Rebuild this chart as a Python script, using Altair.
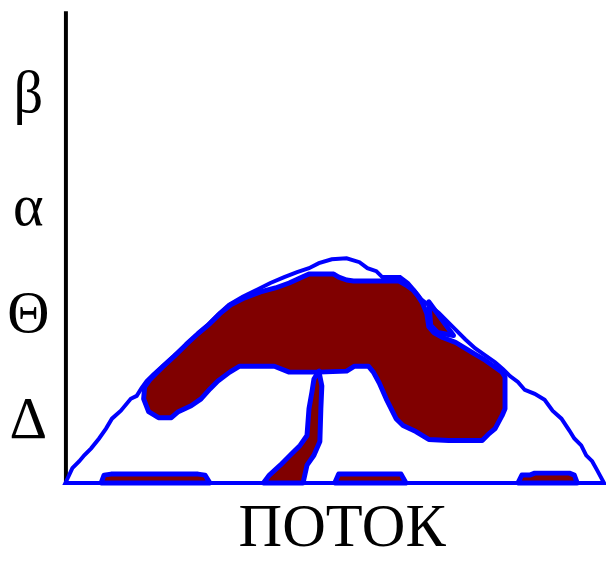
import altair as alt
import pandas as pd

# Phase-diagram outlines (x: flux units, y: level units)
envelope_x = [0, 7, 14, 19, 26, 34, 41, 47, 56, 66, 72, 77, 82, 89, 99, 109, 120, 132, 144, 154,
              165, 179, 195, 207, 221, 234, 246, 256, 269, 284, 297, 305, 314, 320, 338, 346, 353,
              360, 377, 391, 404, 414, 424, 434, 442, 449, 457, 464, 474, 484, 492, 501, 509, 514,
              521, 526, 532, 537, 544]
envelope_y = [-2, 13, 20, 26, 33, 43, 53, 63, 71, 83, 86, 94, 101, 108, 117, 126, 136, 147, 158, 168,
              178, 186, 194, 200, 206, 211, 215, 220, 224, 225, 221, 215, 212, 206, 206, 200, 192,
              183, 170, 156, 143, 134, 127, 120, 113, 106, 100, 92, 88, 82, 71, 63, 51, 43,
              36, 26, 20, 11, -2]

cap_x = [79, 80, 85, 92, 98, 110, 122, 134, 146, 156, 167, 181, 197, 212, 226, 237, 246, 271, 276,
         284, 291, 337, 344, 351, 356, 361, 365, 367, 372, 381, 394, 404, 414, 424, 434, 441, 444,
         444, 441, 434, 427, 421, 387, 367, 354, 341, 334, 324, 317, 311, 306, 292, 284, 256, 226,
         211, 176, 166, 154, 146, 137, 127, 114, 107, 94, 84]
cap_y = [83, 95, 102, 109, 115, 126, 138, 149, 159, 169, 178, 185, 191, 195, 200, 205, 209, 209, 206,
         203, 202, 202, 198, 193, 187, 179, 169, 156, 150, 145, 140, 134, 128, 122, 115, 110, 105,
         73, 66, 53, 47, 41, 41, 42, 50, 56, 63, 83, 99, 110, 116, 116, 111, 110, 110,
         116, 116, 110, 101, 93, 83, 76, 70, 64, 64, 70]

wedge_x = [367, 369, 376, 392]
wedge_y = [181, 157, 150, 147]

stem_x = [256, 251, 249, 246, 244, 237, 227, 217, 206, 200, 240, 244, 251, 257, 258, 259]
stem_y = [111, 103, 90, 73, 46, 36, 26, 16, 6, -2, -2, 16, 26, 40, 73, 96]

strip_a_x = [36, 39, 46, 134, 141, 146]
strip_a_y = [-2, 6, 7, 7, 6, -2]
strip_b_x = [272, 276, 339, 344]
strip_b_y = [-2, 7, 7, -2]
strip_c_x = [457, 461, 469, 474, 509, 514, 517]
strip_c_y = [-2, 6, 6, 8, 8, 6, -2]

greek_labels = ["β", "α", "Θ", "Δ"]
greek_pos = [373, 259, 151, 44]


def frame(name, xs, ys):
    return pd.DataFrame({"shape": name, "i": range(len(xs)), "x": xs, "y": ys})


env_df = frame("envelope", envelope_x, envelope_y)
fill_df = pd.concat([
    frame("cap", cap_x, cap_y),
    frame("wedge", wedge_x, wedge_y),
    frame("stem", stem_x, stem_y),
    frame("strip_a", strip_a_x, strip_a_y),
    frame("strip_b", strip_b_x, strip_b_y),
    frame("strip_c", strip_c_x, strip_c_y),
])

label_expr = " : ".join(
    f"datum.value == {p} ? '{t}'" for p, t in zip(greek_pos, greek_labels)
) + " : ''"

x_enc = alt.X("x:Q", scale=alt.Scale(domain=[0, 544], nice=False, zero=False),
              axis=alt.Axis(labels=False, ticks=False, grid=False, domain=False,
                            title="ПОТОК", titleFont="Liberation Serif", titleFontSize=61,
                            titleFontWeight="normal", titleColor="black", titlePadding=15,
                            titleX=279, titleAlign="center"))
y_enc = alt.Y("y:Q", scale=alt.Scale(domain=[-2, 475], nice=False, zero=False),
              axis=alt.Axis(values=greek_pos, labelExpr=label_expr, title=None, ticks=False,
                            grid=False, domain=True, domainColor="black", domainWidth=4,
                            labelFont="Liberation Serif", labelFontSize=59, labelColor="black",
                            labelAlign="center", labelBaseline="alphabetic", labelPadding=38))

envelope = alt.Chart(env_df).mark_line(
    interpolate="linear-closed", stroke="#0000ff", strokeWidth=4, fill="transparent"
).encode(x=x_enc, y=y_enc, order="i:Q")

filled = alt.Chart(fill_df).mark_line(
    interpolate="linear-closed", stroke="#0000ff", strokeWidth=5, fill="#800000",
    strokeJoin="round"
).encode(x=x_enc, y=y_enc, detail="shape:N", order="i:Q")

chart = alt.layer(envelope, filled).properties(
    width=544, height=477,
    autosize=alt.AutoSizeParams(type="none"),
    padding={"left": 58, "top": 0, "right": 2, "bottom": 75},
).configure_view(strokeWidth=0)

chart.save("out.html", embed_options={"renderer": "svg", "actions": False})
